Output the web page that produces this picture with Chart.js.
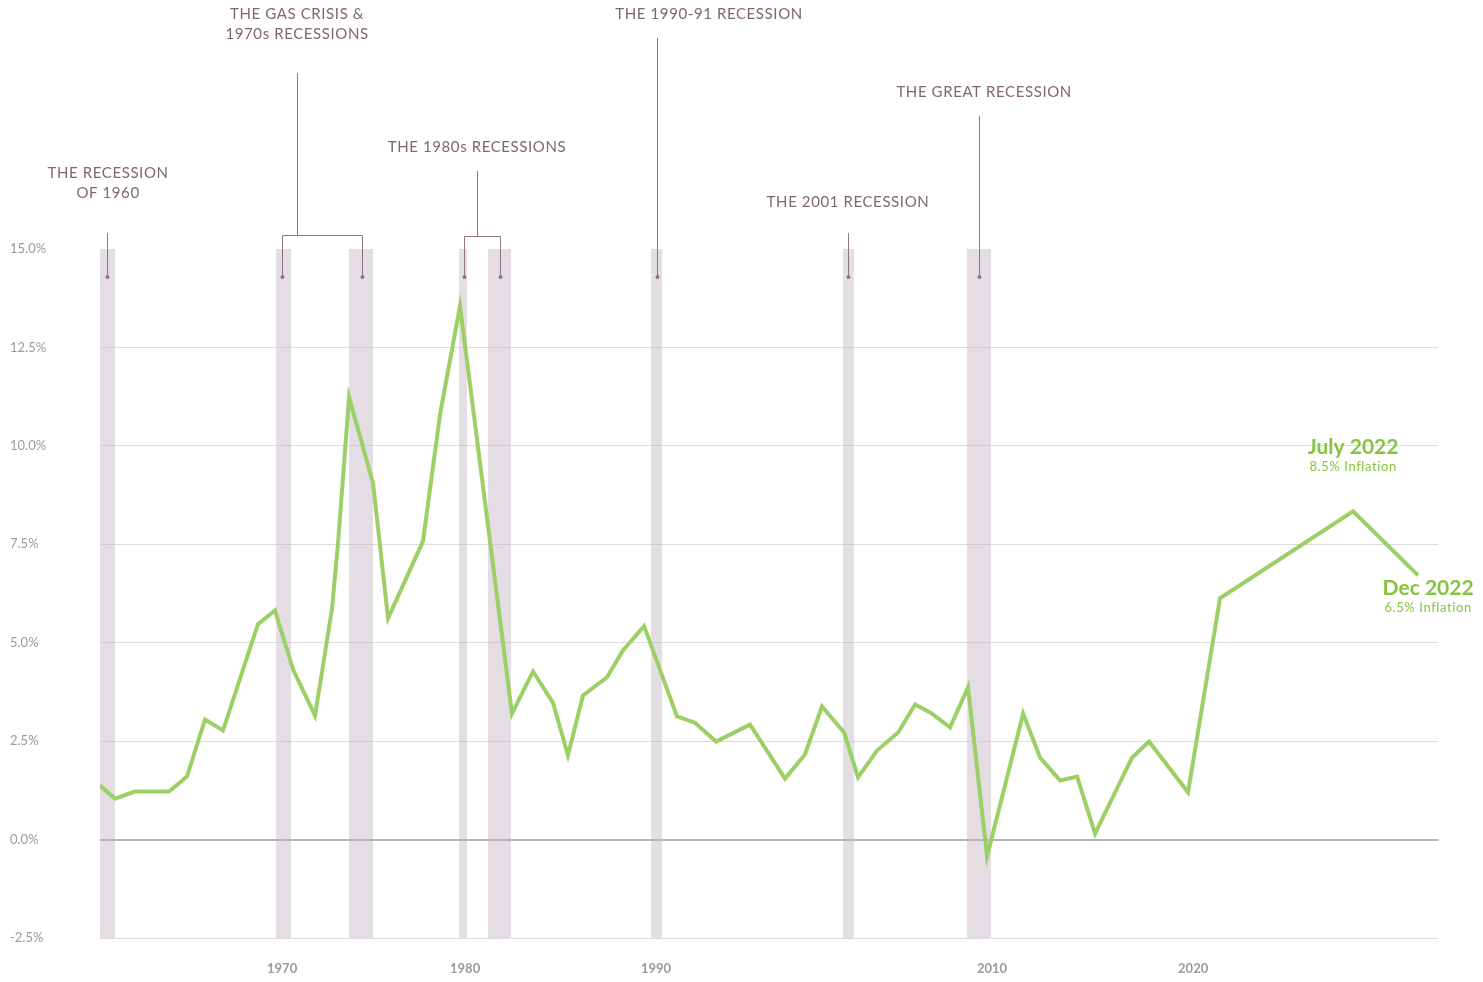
<!DOCTYPE html>
<html>
<head>
<meta charset="utf-8">
<title>Inflation and recessions</title>
<script src="https://cdn.jsdelivr.net/npm/chart.js@4"></script>
<style>
  body { margin: 0; background: #fff; }
  #wrap { width: 1483px; height: 982px; position: relative; }
</style>
</head>
<body>
<div id="wrap"><canvas id="myChart"></canvas></div>
<script>
// data (x in years as placed on the chart's time axis)
const years = [1960.0, 1960.82, 1961.91, 1963.77, 1964.75, 1965.74, 1966.72, 1968.63, 1969.56, 1970.55,
  1971.75, 1972.68, 1973.01, 1973.61, 1974.92, 1975.74, 1977.65, 1978.58, 1979.67, 1982.51,
  1983.66, 1984.75, 1985.57, 1986.39, 1987.70, 1988.58, 1989.73, 1991.53, 1992.51, 1993.66,
  1995.52, 1997.43, 1998.52, 1999.45, 2000.66, 2001.42, 2002.46, 2003.61, 2004.54, 2005.46,
  2006.45, 2007.43, 2008.47, 2010.44, 2011.37, 2012.46, 2013.39, 2014.37, 2016.39, 2017.32,
  2019.45, 2021.20, 2028.47, 2032.02];
const inflation = [1.37, 1.04, 1.22, 1.22, 1.60, 3.05, 2.77, 5.47, 5.82, 4.32,
  3.15, 5.87, 7.55, 11.24, 9.05, 5.62, 7.58, 10.80, 13.55, 3.20,
  4.27, 3.48, 2.14, 3.66, 4.12, 4.81, 5.42, 3.13, 2.97, 2.49,
  2.92, 1.55, 2.16, 3.38, 2.72, 1.58, 2.26, 2.72, 3.43, 3.20,
  2.85, 3.87, -0.43, 3.20, 2.08, 1.50, 1.60, 0.15, 2.08, 2.49,
  1.20, 6.13, 8.34, 6.71];

// shaded recession periods
const recessionStart = [1960.0, 1969.62, 1973.61, 1979.62, 1981.20, 1990.11, 2000.60, 2007.38];
const recessionEnd   = [1960.82, 1970.44, 1974.92, 1980.05, 1982.46, 1990.71, 2001.20, 2008.69];

// x axis tick labels and where they sit on the axis
const tickLabels = ['1970', '1980', '1990', '2010', '2020'];
const tickYears  = [1969.95, 1979.95, 1990.38, 2008.74, 2019.73];

// recession callouts
const notes = [
  { text: ['THE RECESSION', 'OF 1960'], tx: 1960.44, ty: 173, stem: 1960.38, stemTop: 233, legs: [] },
  { text: ['THE GAS CRISIS &', '1970s RECESSIONS'], tx: 1970.77, ty: 14, stem: 1970.77, stemTop: 73, legs: [1969.95, 1974.29], bar: 235 },
  { text: ['THE 1980s RECESSIONS'], tx: 1980.60, ty: 147, stem: 1980.60, stemTop: 171, legs: [1979.89, 1981.86], bar: 236 },
  { text: ['THE 1990-91 RECESSION'], tx: 1993.28, ty: 14, stem: 1990.44, stemTop: 38, legs: [] },
  { text: ['THE 2001 RECESSION'], tx: 2000.87, ty: 202, stem: 2000.87, stemTop: 233, legs: [] },
  { text: ['THE GREAT RECESSION'], tx: 2008.31, ty: 92, stem: 2008.03, stemTop: 116, legs: [] }
];

// end labels
const endLabels = [
  { title: 'July 2022', sub: '8.5% Inflation', x: 2028.47, y: 447 },
  { title: 'Dec 2022', sub: '6.5% Inflation', x: 2032.57, y: 588 }
];

const mauve = '#7f6577';
const green = '#86c440';
const dotY = 277;

const recessionPlugin = {
  id: 'recessions',
  beforeDatasetsDraw(chart) {
    const ctx = chart.ctx, xs = chart.scales.x, area = chart.chartArea;
    ctx.save();
    ctx.fillStyle = 'rgba(196, 180, 194, 0.45)';
    for (let i = 0; i < recessionStart.length; i++) {
      const a = xs.getPixelForValue(recessionStart[i]);
      const b = xs.getPixelForValue(recessionEnd[i]);
      ctx.fillRect(a, area.top, b - a, area.bottom - area.top);
    }
    ctx.restore();
  },
  afterDatasetsDraw(chart) {
    const ctx = chart.ctx, xs = chart.scales.x;
    ctx.save();
    ctx.strokeStyle = '#8c7484';
    ctx.fillStyle = '#8c7484';
    ctx.lineWidth = 1;
    notes.forEach(function(n) {
      const sx = Math.round(xs.getPixelForValue(n.stem)) + 0.5;
      ctx.beginPath();
      if (n.legs.length) {
        ctx.moveTo(sx, n.stemTop);
        ctx.lineTo(sx, n.bar);
        const l = Math.round(xs.getPixelForValue(n.legs[0])) + 0.5;
        const r = Math.round(xs.getPixelForValue(n.legs[1])) + 0.5;
        ctx.moveTo(l, dotY);
        ctx.lineTo(l, n.bar + 0.5);
        ctx.lineTo(r, n.bar + 0.5);
        ctx.lineTo(r, dotY);
        ctx.stroke();
        [l, r].forEach(function(px) {
          ctx.beginPath();
          ctx.arc(px, dotY, 2, 0, Math.PI * 2);
          ctx.fill();
        });
      } else {
        ctx.moveTo(sx, n.stemTop);
        ctx.lineTo(sx, dotY);
        ctx.stroke();
        ctx.beginPath();
        ctx.arc(sx, dotY, 2, 0, Math.PI * 2);
        ctx.fill();
      }
      // label text
      ctx.fillStyle = mauve;
      ctx.font = '15px Lato';
      ctx.letterSpacing = '0.6px';
      ctx.textAlign = 'center';
      ctx.textBaseline = 'middle';
      const tx = xs.getPixelForValue(n.tx);
      n.text.forEach(function(t, i) {
        ctx.fillText(t, tx, n.ty + i * 20);
      });
      ctx.letterSpacing = '0px';
      ctx.fillStyle = '#8c7484';
    });

    // July / Dec 2022 labels
    ctx.fillStyle = green;
    ctx.textAlign = 'center';
    ctx.textBaseline = 'middle';
    endLabels.forEach(function(e) {
      const px = xs.getPixelForValue(e.x);
      ctx.font = 'bold 21px Lato';
      ctx.fillText(e.title, px, e.y);
      ctx.font = '13px Lato';
      ctx.letterSpacing = '0.6px';
      ctx.fillText(e.sub, px, e.y + 20);
      ctx.letterSpacing = '0px';
    });
    ctx.restore();
  }
};

const points = years.map(function(y, i) { return { x: y, y: inflation[i] }; });

const config = {
  type: 'line',
  data: {
    datasets: [{
      label: 'Inflation',
      data: points,
      borderColor: '#9cd067',
      borderWidth: 4,
      borderJoinStyle: 'miter',
      tension: 0,
      pointRadius: 0,
      fill: false
    }]
  },
  options: {
    responsive: true,
    maintainAspectRatio: false,
    animation: false,
    layout: { padding: { top: 249, left: 10, right: 45, bottom: 0 } },
    plugins: {
      legend: { display: false },
      tooltip: { enabled: false }
    },
    scales: {
      x: {
        type: 'linear',
        min: 1960,
        max: 2033.11,
        grid: { display: false },
        border: { display: false },
        afterBuildTicks: function(scale) {
          scale.ticks = tickYears.map(function(v) { return { value: v }; });
        },
        afterFit: function(scale) { scale.height = 44; },
        ticks: {
          padding: 15,
          maxRotation: 0,
          autoSkip: false,
          color: '#9a9a9a',
          font: { family: 'Lato', size: 13, weight: 'bold' },
          callback: function(value) {
            const i = tickYears.indexOf(value);
            return i >= 0 ? tickLabels[i] : '';
          }
        }
      },
      y: {
        min: -2.5,
        max: 15,
        border: { display: false },
        afterFit: function(scale) { scale.width = 90; },
        grid: {
          drawTicks: false,
          color: function(c) {
            if (c.tick.value === 15) return 'rgba(0,0,0,0)';
            if (c.tick.value === 0) return '#b3b3b3';
            return '#dcdcdc';
          },
          lineWidth: function(c) { return c.tick.value === 0 ? 2 : 1; }
        },
        ticks: {
          stepSize: 2.5,
          crossAlign: 'far',
          padding: 0,
          color: '#9a9a9a',
          font: { family: 'Lato', size: 13 },
          callback: function(v) { return v.toFixed(1) + '%'; }
        }
      }
    }
  },
  plugins: [recessionPlugin]
};

const myChart = new Chart(document.getElementById('myChart'), config);
</script>
</body>
</html>
